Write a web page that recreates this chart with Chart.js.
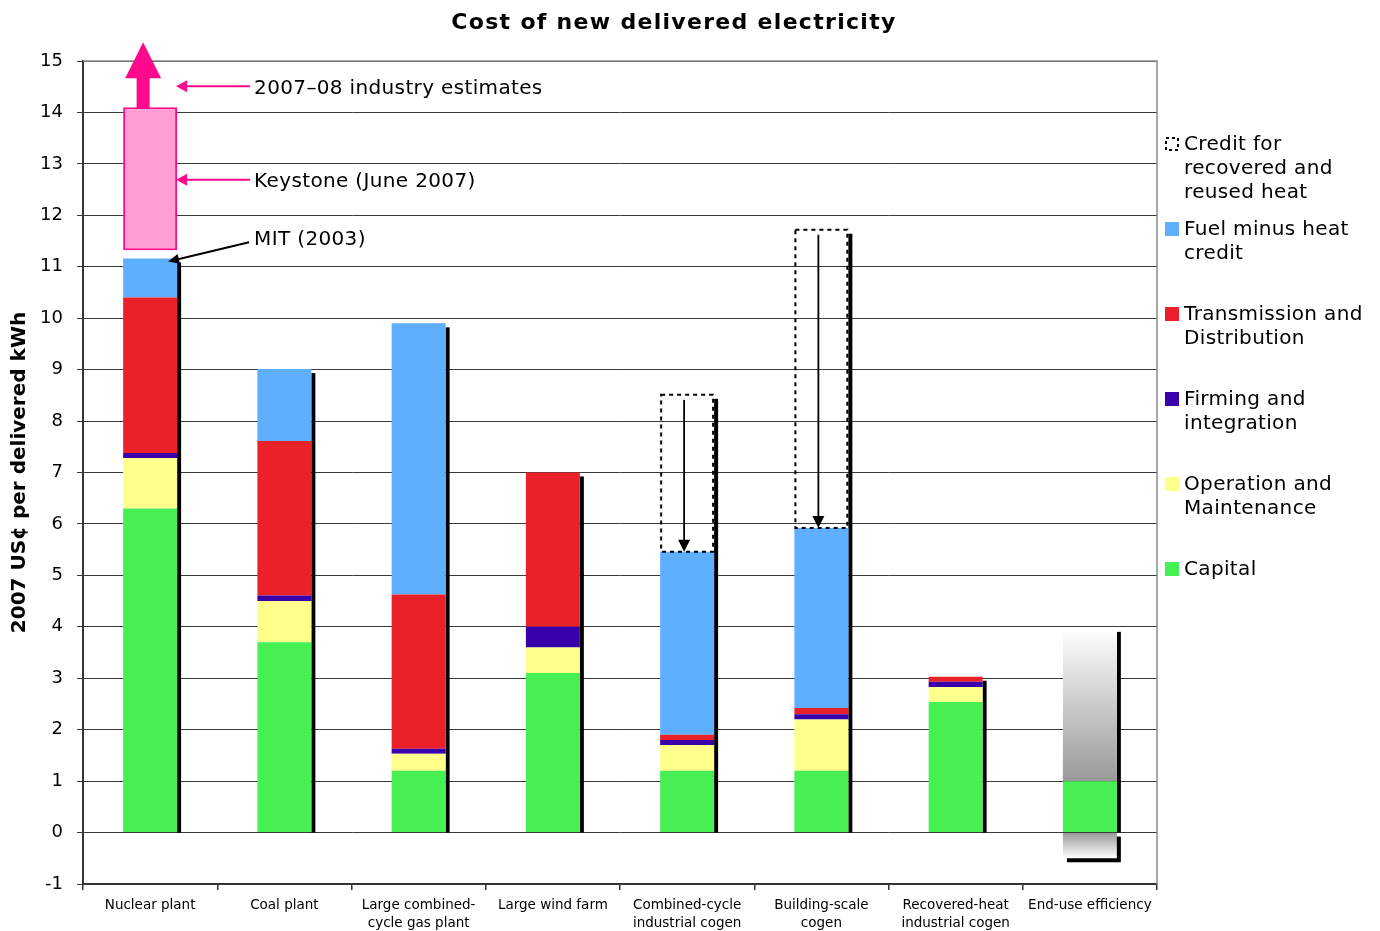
<!DOCTYPE html>
<html>
<head>
<meta charset="utf-8">
<script src="https://cdn.jsdelivr.net/npm/chart.js@4.4.1/dist/chart.umd.min.js"></script>
<style>
html,body{margin:0;padding:0;background:#fff;}
#wrap{width:1380px;height:931px;}
</style>
</head>
<body>
<div id="wrap"><canvas id="c" width="1380" height="931"></canvas></div>
<script>
const chartTitle = "Cost of new delivered electricity";
const yAxisTitle = "2007 US\u00A2 per delivered kWh";
const categories = [["Nuclear plant"],["Coal plant"],["Large combined-","cycle gas plant"],["Large wind farm"],["Combined-cycle","industrial cogen"],["Building-scale","cogen"],["Recovered-heat","industrial cogen"],["End-use efficiency"]];
const capital  = [6.30, 3.70, 1.20, 3.10, 1.20, 1.20, 2.54, 1.00];
const om       = [0.98, 0.80, 0.33, 0.50, 0.50, 1.00, 0.29, 0];
const firming  = [0.10, 0.11, 0.10, 0.40, 0.10, 0.10, 0.10, 0];
const td       = [3.02, 3.00, 3.00, 3.00, 0.10, 0.12, 0.10, 0];
const fuel     = [0.76, 1.40, 5.27, 0,    3.56, 3.50, 0,    0];
const effRange = [0, 0, 0, 0, 0, 0, 0, 2.98];
const effNeg   = [0, 0, 0, 0, 0, 0, 0, -0.5];
const credit   = [0, 0, 0, 0, 3.05, 5.80, 0, 0];
const gapToKeystone = [0.16, 0, 0, 0, 0, 0, 0, 0];
const keystone = [2.78, 0, 0, 0, 0, 0, 0, 0];
const legendLabels = [["Credit for","recovered and","reused heat"],["Fuel minus heat","credit"],["Transmission and","Distribution"],["Firming and","integration"],["Operation and","Maintenance"],["Capital"]];
const annotationTexts = ["2007\u201308 industry estimates","Keystone (June 2007)","MIT (2003)"];
const yTicks = {min:-1, max:15, step:1};

const COL = {capital:'#47F052', om:'#FFFF8C', firming:'#3A00AA', td:'#EA2128', fuel:'#5EAFFF', pink:'#FF9ED5', magenta:'#FF0A8C'};
const FONT = "'DejaVu Sans', Verdana, sans-serif";

function gradFill(ctx, top, bottom, c1, c2){
  const chart = ctx.chart;
  if(!chart.chartArea) return c2;
  const y = chart.scales.y;
  const g = chart.ctx.createLinearGradient(0, y.getPixelForValue(top), 0, y.getPixelForValue(bottom));
  g.addColorStop(0, c1); g.addColorStop(1, c2);
  return g;
}

const datasets = [
  {label:'Capital', data:capital, backgroundColor:COL.capital},
  {label:'Operation and Maintenance', data:om, backgroundColor:COL.om},
  {label:'Firming and integration', data:firming, backgroundColor:COL.firming},
  {label:'Transmission and Distribution', data:td, backgroundColor:COL.td},
  {label:'Fuel minus heat credit', data:fuel, backgroundColor:COL.fuel},
  {label:'Efficiency range', data:effRange, backgroundColor:(ctx)=>{
      const i = ctx.dataIndex; const base = capital[i]; return gradFill(ctx, base+effRange[i], base, '#ffffff', '#999999');}},
  {label:'Efficiency negative', data:effNeg, backgroundColor:(ctx)=>{
      const i = ctx.dataIndex; return gradFill(ctx, 0, effNeg[i], '#999999', '#ffffff');}},
  {label:'Credit for recovered and reused heat', data:credit, backgroundColor:'rgba(0,0,0,0)'},
  {label:'gap', data:gapToKeystone, backgroundColor:'rgba(0,0,0,0)'},
  {label:'Keystone', data:keystone, backgroundColor:COL.pink, borderColor:COL.magenta, borderWidth:2, borderSkipped:false}
];
datasets.forEach(d=>{ if(d.borderWidth===undefined) d.borderWidth=0; d.categoryPercentage=1; d.barPercentage=0.402; d.inflateAmount=0; });

function arrowHead(ctx, x, y, angle, len, half){
  ctx.save(); ctx.translate(x,y); ctx.rotate(angle);
  ctx.beginPath(); ctx.moveTo(0,0); ctx.lineTo(-len,-half); ctx.lineTo(-len,half); ctx.closePath(); ctx.fill();
  ctx.restore();
}

const decor = {
  id:'decor',
  beforeDraw(chart){
    const c = chart.ctx; c.save(); c.fillStyle='#fff'; c.fillRect(0,0,chart.width,chart.height); c.restore();
  },
  beforeDatasetsDraw(chart){
    const c = chart.ctx, a = chart.chartArea, y = chart.scales.y;
    c.save();
    c.strokeStyle='#8a8a8a'; c.lineWidth=1.5;
    c.beginPath(); c.moveTo(a.left, a.top); c.lineTo(a.right, a.top); c.lineTo(a.right, a.bottom); c.stroke();
    const meta0 = chart.getDatasetMeta(0);
    const y0 = y.getPixelForValue(0);
    c.fillStyle='#000';
    for(let i=0;i<categories.length;i++){
      const el = meta0.data[i];
      const left = el.x - el.width/2, right = el.x + el.width/2;
      const total = capital[i]+om[i]+firming[i]+td[i]+fuel[i]+effRange[i]+credit[i];
      const yt = y.getPixelForValue(total);
      c.fillRect(right, yt+4, 4, y0-(yt+4));
      if(effNeg[i]<0){
        const yb = y.getPixelForValue(effNeg[i]);
        c.fillRect(left+4, y0+4, el.width, yb-y0);
      }
    }
    c.restore();
  },
  afterDatasetsDraw(chart){
    const c = chart.ctx, a = chart.chartArea, y = chart.scales.y;
    c.save();
    const cm = chart.getDatasetMeta(7);
    for(let i=0;i<categories.length;i++){
      if(!(credit[i]>0)) continue;
      const el = cm.data[i];
      const left = el.x - el.width/2;
      c.strokeStyle='#000'; c.lineWidth=2; c.setLineDash([4,4]);
      c.strokeRect(left+1, el.y, el.width-2, el.base-el.y);
      c.setLineDash([]);
      c.lineWidth=1.8;
      const ax = el.x - 3;
      c.beginPath(); c.moveTo(ax, el.y+5); c.lineTo(ax, el.base-10); c.stroke();
      c.fillStyle='#000';
      arrowHead(c, ax, el.base, Math.PI/2, 12, 6);
    }
    const km = chart.getDatasetMeta(9);
    const k = km.data[0];
    const kx = k.x - 7, ktop = k.y;
    c.fillStyle = COL.magenta;
    c.fillRect(kx-6.5, ktop-30, 13, 31);
    c.beginPath(); c.moveTo(kx, ktop-65); c.lineTo(kx-18, ktop-29); c.lineTo(kx+18, ktop-29); c.closePath(); c.fill();
    const kRight = k.x + k.width/2;
    const tx = kRight + 77;
    c.strokeStyle = COL.magenta; c.lineWidth=2;
    const ya1 = ktop-21, ya2 = (k.y+k.base)/2+1;
    [ya1, ya2].forEach(yy=>{
      c.beginPath(); c.moveTo(tx-4, yy); c.lineTo(kRight+8, yy); c.stroke();
      arrowHead(c, kRight-1, yy, Math.PI, 11, 6);
    });
    const nucTop = y.getPixelForValue(capital[0]+om[0]+firming[0]+td[0]+fuel[0]);
    const mitY = k.base - 11;
    c.strokeStyle='#000'; c.fillStyle='#000'; c.lineWidth=2;
    const x1 = tx-5, y1 = mitY+3, x2 = kRight-9, y2 = nucTop+3;
    const ang = Math.atan2(y2-y1, x2-x1);
    c.beginPath(); c.moveTo(x1,y1); c.lineTo(x2-8*Math.cos(ang), y2-8*Math.sin(ang)); c.stroke();
    arrowHead(c, x2, y2, ang, 11, 5);
    c.fillStyle='#000'; c.font = "20px "+FONT; c.letterSpacing = '0.35px';
    c.textAlign='left'; c.textBaseline='middle';
    c.fillText(annotationTexts[0], tx, ya1+3);
    c.fillText(annotationTexts[1], tx, ya2+2);
    c.fillText(annotationTexts[2], tx, mitY+1);
    const lx = a.right + 8, ltx = a.right + 27;
    const swatches = ['dash', COL.fuel, COL.td, COL.firming, COL.om, COL.capital];
    let ly = a.top + 84;
    for(let j=0;j<legendLabels.length;j++){
      const sy = ly - 8;
      if(swatches[j]==='dash'){
        c.strokeStyle='#000'; c.lineWidth=2; c.setLineDash([3,3]);
        c.strokeRect(lx+1, sy+1, 12, 12); c.setLineDash([]);
      } else { c.fillStyle = swatches[j]; c.fillRect(lx, sy, 14, 14); }
      c.fillStyle='#000';
      legendLabels[j].forEach((t,n)=>c.fillText(t, ltx, ly + n*24));
      ly += 85;
    }
    c.font = "bold 22px "+FONT; c.letterSpacing = '1.3px'; c.textAlign='center';
    c.fillText(chartTitle, 674, 23);
    c.restore();
  }
};

new Chart(document.getElementById('c'), {
  type:'bar',
  data:{labels:categories, datasets},
  options:{
    responsive:false, animation:false, devicePixelRatio:1,
    layout:{padding:{left:0, right:223, top:61, bottom:0}},
    plugins:{legend:{display:false}, tooltip:{enabled:false}, title:{display:false}},
    scales:{
      x:{stacked:true,
         grid:{display:true, drawOnChartArea:false, drawTicks:true, tickLength:6, offset:true, color:'#333', lineWidth:1.5},
         border:{display:true, color:'#333', width:1.5},
         ticks:{color:'#000', font:{family:FONT, size:13.5, lineHeight:1.35}, padding:6, maxRotation:0, autoSkip:false},
         afterFit:(s)=>{ s.height = 47; }
      },
      y:{stacked:true, min:yTicks.min, max:yTicks.max,
         ticks:{stepSize:yTicks.step, color:'#000', font:{family:FONT, size:18}, padding:14},
         grid:{color:'#3a3a3a', lineWidth:1, tickLength:6},
         border:{display:true, color:'#333', width:2},
         title:{display:true, text:yAxisTitle, color:'#000', font:{family:FONT, size:20, weight:'bold'}, padding:{top:8, bottom:0}},
         afterFit:(s)=>{ s.width = 83; }
      }
    }
  },
  plugins:[decor]
});
</script>
</body>
</html>
